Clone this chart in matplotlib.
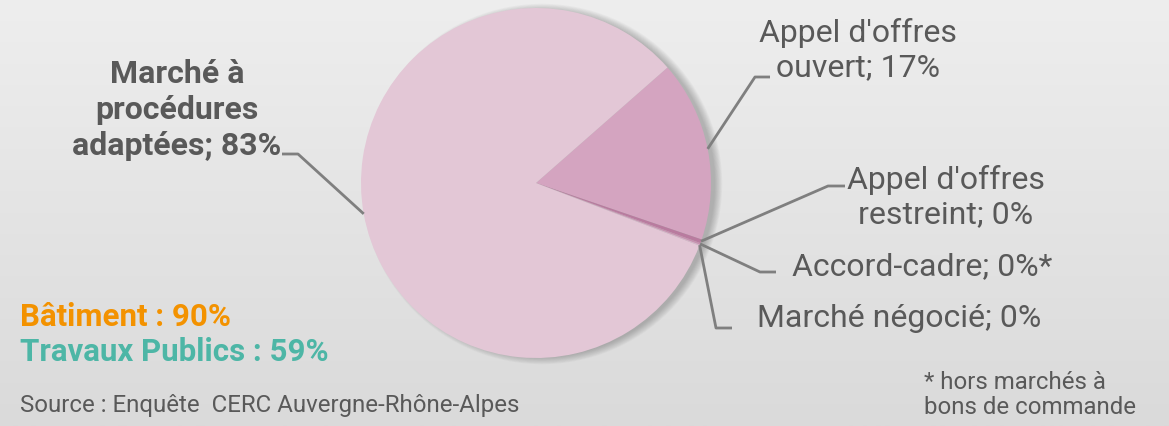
import numpy as np
import matplotlib
matplotlib.use("Agg")
import matplotlib.pyplot as plt
from matplotlib.patches import Circle

plt.rcParams['font.family'] = ['Roboto', 'DejaVu Sans']

# data (clockwise from the top-right boundary of the "ouvert" slice)
labels = ["Appel d'offres ouvert", "Appel d'offres restreint", "Accord-cadre",
          "Marché négocié", "Marché à procédures adaptées"]
values = [16.7, 0.35, 0.15, 0.1, 82.7]
colors = ['#D4A4C0', '#B97B9F', '#C890B0', '#D9B2C9', '#E3C7D6']

W, H = 1169, 427
fig = plt.figure(figsize=(W / 100, H / 100), dpi=100)
ax = fig.add_axes([0, 0, 1, 1])

# background gradient
grad = np.linspace(0, 1, 256).reshape(-1, 1)
ax.imshow(grad, extent=[0, W, 0, H], cmap=matplotlib.colors.LinearSegmentedColormap.from_list(
    'bg', ['#DADADA', '#EEEEEE']), origin='lower', aspect='auto', zorder=0)

cx, cy, r = 536, 243, 175

# soft shadow (mostly to the right)
for i in range(10):
    ax.add_patch(Circle((cx + 6, cy - 1), r - 2 + i * 0.8, color='#444444',
                        alpha=0.035, lw=0, zorder=1))

wedges, _ = ax.pie(values, colors=colors, startangle=41.3, counterclock=False,
                   center=(cx, cy), radius=r, frame=True,
                   wedgeprops=dict(linewidth=0, zorder=2))
ax.set_xlim(0, W)
ax.set_ylim(0, H)
ax.axis('off')


def edge_point(w):
    a = np.deg2rad((w.theta1 + w.theta2) / 2)
    return cx + r * np.cos(a), cy + r * np.sin(a)


lc = '#7F7F7F'
tc = '#595959'

# leader lines: (wedge index, elbow, end)
leaders = [
    (0, (755, H - 78), (770, H - 78)),
    (1, (828, H - 187), (845, H - 187)),
    (2, (760, H - 273), (776, H - 273)),
    (3, (716, H - 329), (732, H - 329)),
    (4, (298, H - 155), (282, H - 155)),
]
for i, elbow, end in leaders:
    px, py = edge_point(wedges[i])
    ax.plot([px, elbow[0], end[0]], [py, elbow[1], end[1]], color=lc, lw=2,
            zorder=3, solid_capstyle='butt')

fs = 23
ax.text(858, H - 50, "Appel d'offres\nouvert; 17%", ha='center', va='center',
        fontsize=fs, color=tc, linespacing=1.22)
ax.text(946, H - 197, "Appel d'offres\nrestreint; 0%", ha='center', va='center',
        fontsize=fs, color=tc, linespacing=1.22)
ax.text(792, H - 267, "Accord-cadre; 0%*", ha='left', va='center',
        fontsize=fs, color=tc)
ax.text(757, H - 319, "Marché négocié; 0%", ha='left', va='center',
        fontsize=fs, color=tc)
ax.text(177, H - 110, "Marché à\nprocédures\nadaptées; 83%", ha='center', va='center',
        fontsize=fs, color=tc, fontweight='bold', linespacing=1.27)

ax.text(20, H - 317, "Bâtiment : 90%", ha='left', va='center', fontsize=22.5,
        color='#F39200', fontweight='bold')
ax.text(20, H - 352, "Travaux Publics : 59%", ha='left', va='center', fontsize=22.5,
        color='#4DB6A6', fontweight='bold')
ax.text(20, H - 406, "Source : Enquête  CERC Auvergne-Rhône-Alpes", ha='left', va='center',
        fontsize=17.3, color=tc)
ax.text(924, H - 395, "* hors marchés à\nbons de commande", ha='left', va='center',
        fontsize=17.3, color=tc, linespacing=1.12)

fig.savefig('out.png', dpi=100)
